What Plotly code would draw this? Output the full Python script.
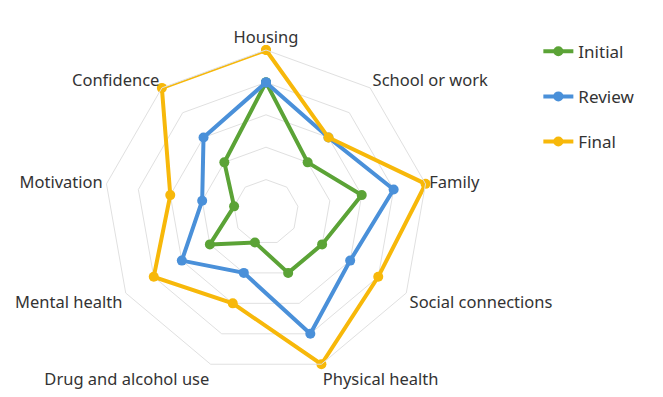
import plotly.graph_objects as go

categories = ["Housing", "School or work", "Family", "Social connections",
              "Physical health", "Drug and alcohol use", "Mental health",
              "Motivation", "Confidence"]
initial = [4, 2, 3, 2, 2, 1, 2, 1, 2]
review = [4, 3, 4, 3, 4, 2, 3, 2, 3]
final = [5, 3, 5, 4, 5, 3, 4, 3, 5]

series = [("Initial", initial, "#5BA336"),
          ("Review", review, "#4A90D9"),
          ("Final", final, "#F7B80A")]

fig = go.Figure()
for i, (name, vals, col) in enumerate(series):
    fig.add_trace(go.Scatterpolar(
        r=vals + vals[:1], theta=categories + categories[:1],
        mode="lines+markers", name=name, legendgroup=name,
        line=dict(color=col, width=4),
        marker=dict(color=col, size=10),
        cliponaxis=False,
    ))

W, H = 663, 397
cx, cy, R = 266, 212, 162
fig.update_layout(
    width=W, height=H,
    margin=dict(l=0, r=0, t=0, b=0),
    paper_bgcolor="white",
    font=dict(family="Noto Sans, Open Sans, sans-serif", size=16.5, color="#333333"),
    polar=dict(
        domain=dict(x=[(cx - R) / W, (cx + R) / W],
                    y=[(H - cy - R) / H, (H - cy + R) / H]),
        gridshape="linear",
        bgcolor="white",
        radialaxis=dict(range=[0, 5], tickvals=[1, 2, 3, 4, 5],
                        showticklabels=False, ticks="", showline=False,
                        gridcolor="#E0E0E0", gridwidth=1),
        angularaxis=dict(rotation=90, direction="clockwise",
                         showgrid=False, showline=True, linecolor="#E0E0E0",
                         linewidth=1, ticks="",
                         tickfont=dict(size=16.5, color="#333333")),
    ),
    legend=dict(x=0.812, y=0.915, xanchor="left", yanchor="top",
                tracegroupgap=20, font=dict(size=17, color="#333333")),
    showlegend=True,
)
fig.write_html("out.html")
